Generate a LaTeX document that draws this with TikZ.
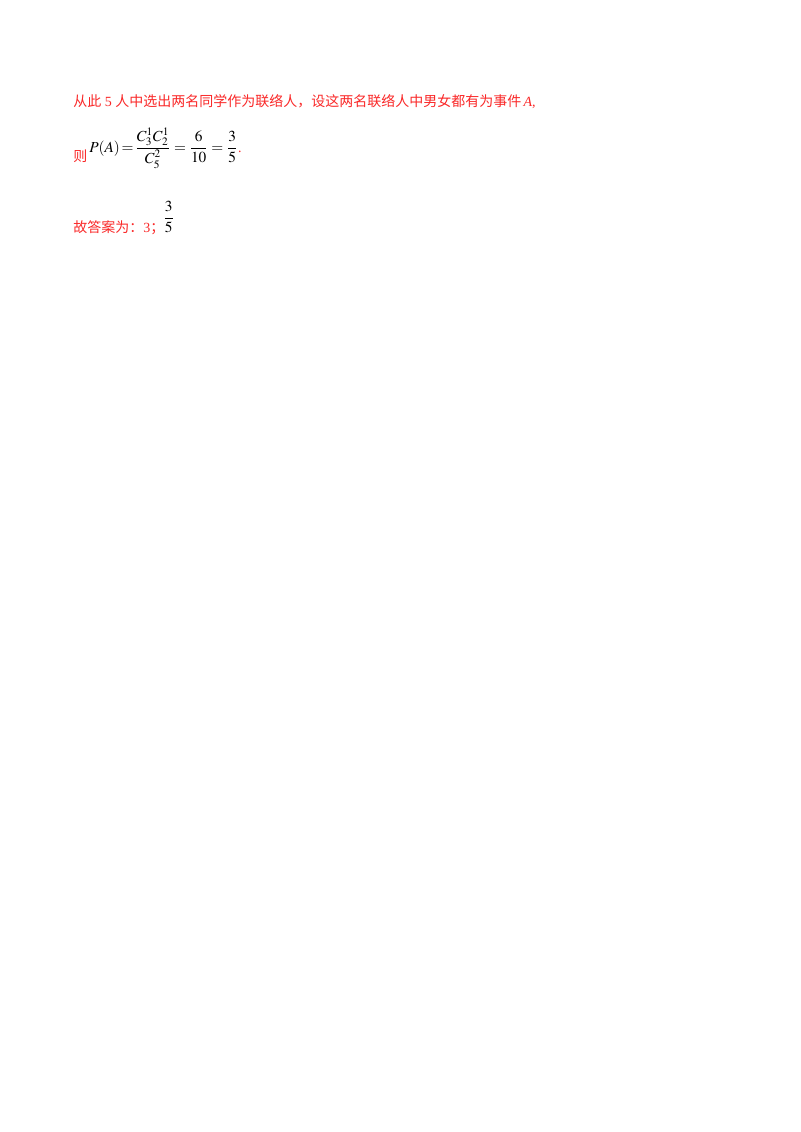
\documentclass[tikz,border=0pt]{standalone}
\usepackage{amsmath}
\usepackage{mathptmx}
\usepackage{fontspec}
\newfontfamily\cjk{Noto Sans CJK SC}
\setmainfont{Liberation Serif}
\definecolor{txtred}{RGB}{250,40,40}
\begin{document}
\begin{tikzpicture}[x=0.75pt,y=-0.75pt,
  txt/.style={anchor=base west,inner sep=0pt,font=\fontsize{10.5pt}{12pt}\selectfont},
  mth/.style={anchor=base west,inner sep=0pt,font=\fontsize{11.5pt}{13pt}\selectfont},
  red/.style={txt,text=txtred}]
\useasboundingbox[fill=white] (0,0) rectangle (800,1132);
\node[red] (l1) at (73,106) {{\cjk 从此}\ 5\ {\cjk 人中选出两名同学作为联络人，设这两名联络人中男女都有为事件}\,\textit{A},};
\node[red] (ze) at (73,161) {\cjk 则};
\node[mth] (eq) at (89,152) {$P(A)\!=\!\dfrac{C_3^1C_2^1}{C_5^2}=\dfrac{6}{10}=\dfrac{3}{5}$};
\node[red,anchor=base west] (dot) at (eq.base east) {.};
\node[red] (ans) at (73,232) {{\cjk 故答案为：}3{\cjk ；}};
\node[mth,anchor=west] (fr) at (163,217) {$\dfrac{3}{5}$};
\end{tikzpicture}
\end{document}
